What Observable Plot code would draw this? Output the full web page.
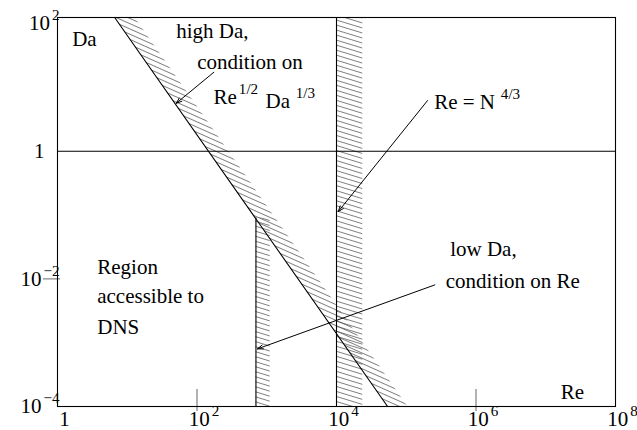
<!DOCTYPE html>
<html>
<head>
<meta charset="utf-8">
<script src="https://cdn.jsdelivr.net/npm/d3@7"></script>
<script src="https://cdn.jsdelivr.net/npm/@observablehq/plot@0.6"></script>
<style>
  html, body { margin: 0; padding: 0; background: #fff; }
</style>
</head>
<body>
<div id="chart"></div>
<script>
// Axes: Reynolds number (Re) horizontally, Damköhler number (Da) vertically, both log.
const reDomain = [1, 1e8];
const daDomain = [1e-4, 125];
const reTicks = [1, 1e2, 1e4, 1e6, 1e8];
const reTickLabels = ["1", "10^{2}", "10^{4}", "10^{6}", "10^{8}"];
const daTicks = [1e-4, 1e-2, 1, 1e2];
const daTickLabels = ["10^{−4}", "10^{−2}", "1", "10^{2}"];
const reMarkTicks = [1e2, 1e6];
const daMarkTicks = [1e-2];

// Da = 1 separates high-Da and low-Da regimes
const unitDa = [1];

// High-Da resolution limit Re^{1/2} Da^{1/3}: line and its hatched outer edge
const highDaDa = [125, 1e-4];
const highDaRe = [6.6, 54000];
const highDaReOuter = [12.8, 105000];

// Low-Da resolution limit on Re (below Da = 1)
const lowDaRe = [700];
const lowDaReOuter = [1120];
const lowDaTop = [0.09];

// Re = N^{4/3}
const nRe = [1e4];
const nReOuter = [23800];

// Annotations
const labelText = ["Da", "high Da,", "condition on", "Re^{1/2}", "Da^{ 1/3}", "Re = N^{ 4/3}",
  "low Da,", "condition on Re", "Region", "accessible to", "DNS", "Re"];
const labelRe = [1.625, 50.3, 100.7, 172.6, 959, 251600, 426600, 368900, 3.71, 3.71, 3.71, 1.644e7];
const labelDa = [45.4, 59, 19.6, 5.59, 4.75, 4.62, 0.0232, 0.00713, 0.01198, 0.0042, 0.001374, 0.0001315];

// Pointer arrows from the annotations to the limits
const arrowFromRe = [174, 201800, 256700];
const arrowFromDa = [17.3, 6.23, 0.00805];
const arrowToRe = [50.3, 10600, 736];
const arrowToDa = [5.65, 0.1135, 0.0008];

// Tables built from the arrays above
const highDa = highDaDa.map((Da, i) => ({Da, Re: highDaRe[i], ReOuter: highDaReOuter[i]}));
const bands = [
  {x1: lowDaRe[0], x2: lowDaReOuter[0], y1: daDomain[0], y2: lowDaTop[0]},
  {x1: nRe[0], x2: nReOuter[0], y1: daDomain[0], y2: daDomain[1]}
];
const labels = labelText.map((text, i) => ({text, Re: labelRe[i], Da: labelDa[i]}));
const arrows = arrowFromRe.map((_, i) => ({x1: arrowFromRe[i], y1: arrowFromDa[i], x2: arrowToRe[i], y2: arrowToDa[i]}));
const xTickRows = reTicks.map((v, i) => ({v, label: reTickLabels[i]}));
const yTickRows = daTicks.map((v, i) => ({v, label: daTickLabels[i]}));

const W = 637, H = 430;
const M = {top: 17, right: 22, bottom: 24, left: 57};
const innerW = W - M.left - M.right;
const innerH = H - M.top - M.bottom;

const svg = Plot.plot({
  width: W,
  height: H,
  marginTop: M.top,
  marginRight: M.right,
  marginBottom: M.bottom,
  marginLeft: M.left,
  x: {type: "log", domain: reDomain, axis: null},
  y: {type: "log", domain: daDomain, axis: null},
  style: {
    fontFamily: "'Liberation Serif', 'Times New Roman', serif",
    fontSize: "21px",
    background: "white",
    color: "black",
    overflow: "visible"
  },
  marks: [
    // hatched sides of the limits
    Plot.areaX(highDa, {y: "Da", x1: "Re", x2: "ReOuter", fill: "url(#hatchD)"}),
    Plot.rect(bands, {x1: "x1", x2: "x2", y1: "y1", y2: "y2", fill: "url(#hatchV)"}),
    // limits
    Plot.ruleY(unitDa, {stroke: "black", strokeWidth: 1.1}),
    Plot.ruleX(nRe, {stroke: "black", strokeWidth: 1.1}),
    Plot.ruleX(lowDaRe, {y1: daDomain[0], y2: lowDaTop[0], stroke: "black", strokeWidth: 1.1}),
    Plot.line(highDa, {x: "Re", y: "Da", stroke: "black", strokeWidth: 1.1}),
    // small tick marks crossing the frame
    Plot.ruleX(reMarkTicks, {stroke: "#666", insetTop: innerH - 17, insetBottom: -5}),
    Plot.ruleY(daMarkTicks, {stroke: "#666", insetLeft: -14, insetRight: innerW - 3}),
    Plot.frame({stroke: "black", strokeWidth: 1.1}),
    // arrows
    Plot.arrow(arrows, {x1: "x1", y1: "y1", x2: "x2", y2: "y2", stroke: "black", strokeWidth: 1, headLength: 9, headAngle: 40}),
    // annotations
    Plot.text(labels, {x: "Re", y: "Da", text: "text", textAnchor: "start", lineAnchor: "bottom", fontSize: 21}),
    // tick labels
    Plot.text(xTickRows, {x: "v", y: () => daDomain[0], text: "label", textAnchor: "middle", lineAnchor: "bottom", dx: 7, dy: 19, fontSize: 21}),
    Plot.text(yTickRows, {filter: d => d.label.includes("^"), x: () => reDomain[0], y: "v", text: "label", textAnchor: "end", lineAnchor: "middle", dx: 2, fontSize: 21}),
    Plot.text(yTickRows, {filter: d => !d.label.includes("^"), x: () => reDomain[0], y: "v", text: "label", textAnchor: "end", lineAnchor: "middle", dx: -13, fontSize: 21})
  ]
});

// hatch patterns
const defs = d3.select(svg).insert("defs", ":first-child");
function hatch(id, angle, gap) {
  const p = defs.append("pattern")
    .attr("id", id)
    .attr("patternUnits", "userSpaceOnUse")
    .attr("width", 10)
    .attr("height", gap)
    .attr("patternTransform", `rotate(${angle})`);
  p.append("line")
    .attr("x1", 0).attr("x2", 10)
    .attr("y1", gap / 2).attr("y2", gap / 2)
    .attr("stroke", "#4a4a4a")
    .attr("stroke-width", 0.7);
}
hatch("hatchV", 17, 4.8);
hatch("hatchD", 24, 4.8);

// superscripts written as ^{...}
d3.select(svg).selectAll("text").each(function () {
  const s = this.textContent;
  if (!s.includes("^{")) return;
  const el = d3.select(this);
  el.text(null);
  const re = /\^\{([^}]*)\}/g;
  let last = 0, m, raised = false;
  while ((m = re.exec(s))) {
    if (m.index > last) {
      el.append("tspan").attr("dy", raised ? 10 : null).text(s.slice(last, m.index));
      raised = false;
    }
    el.append("tspan").attr("dx", 2).attr("dy", raised ? 0 : -10).attr("font-size", "0.72em").text(m[1]);
    raised = true;
    last = m.index + m[0].length;
  }
  if (last < s.length) el.append("tspan").attr("dy", raised ? 10 : null).text(s.slice(last));
});

document.getElementById("chart").appendChild(svg);
</script>
</body>
</html>
